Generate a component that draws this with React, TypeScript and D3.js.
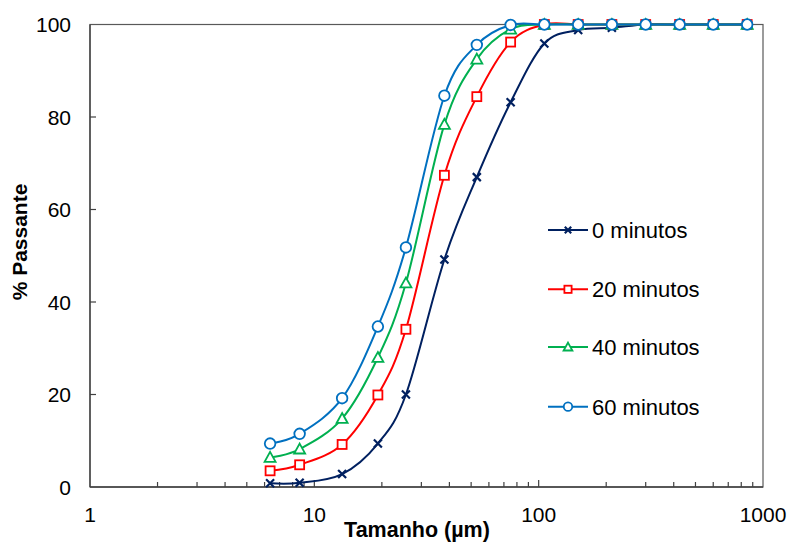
import React from "react";
import * as d3 from "d3";

const sizes = [6.35, 8.6, 13.3, 19.2, 25.6, 38, 53, 75, 106, 150, 212, 300, 425, 600, 850];
const min0 = [0.8, 0.9, 2.8, 9.4, 20.0, 49.2, 67.0, 83.2, 95.9, 98.8, 99.3, 100, 100, 100, 100];
const min20 = [3.5, 4.8, 9.2, 19.9, 34.1, 67.4, 84.4, 96.2, 100, 100, 100, 100, 100, 100, 100];
const min40 = [6.4, 8.2, 14.8, 28.0, 44.1, 78.4, 92.5, 99.0, 100, 100, 100, 100, 100, 100, 100];
const min60 = [9.4, 11.5, 19.2, 34.7, 51.8, 84.6, 95.6, 99.9, 100, 100, 100, 100, 100, 100, 100];
const seriesNames = ["0 minutos", "20 minutos", "40 minutos", "60 minutos"];
const xTickLabels = [1, 10, 100, 1000];
const yTickLabels = [0, 20, 40, 60, 80, 100];

const colors = ["#002060", "#FF0000", "#00B050", "#0070C0"];
const markers = ["x", "square", "triangle", "circle"];
const seriesValues = [min0, min20, min40, min60];

const W = 788, H = 542;
const L = 90, R = 763, T = 24.5, B = 487;
const font = "'Liberation Sans', Arial, sans-serif";

function Marker({ type, x, y, color, s = 1 }: { type: string; x: number; y: number; color: string; s?: number }) {
  if (type === "x") {
    const r = 4 * s;
    return (
      <path d={`M${x - r},${y - r}L${x + r},${y + r}M${x - r},${y + r}L${x + r},${y - r}`} stroke={color} strokeWidth={2.2} fill="none" />
    );
  }
  if (type === "square") {
    const r = 4.5 * s;
    return <rect x={x - r} y={y - r} width={2 * r} height={2 * r} fill="#fff" stroke={color} strokeWidth={1.8} />;
  }
  if (type === "triangle") {
    const r = 5.5 * s;
    return (
      <path d={`M${x},${y - r}L${x + r},${y + r * 0.8}L${x - r},${y + r * 0.8}Z`} fill="#fff" stroke={color} strokeWidth={1.8} />
    );
  }
  return <circle cx={x} cy={y} r={5.3 * s} fill="#fff" stroke={color} strokeWidth={1.8} />;
}

export default function App() {
  const x = d3.scaleLog().domain([1, 1000]).range([L, R]);
  const y = d3.scaleLinear().domain([0, 100]).range([B, T]);
  const line = d3
    .line<[number, number]>()
    .x((d) => x(d[0]))
    .y((d) => y(d[1]))
    .curve(d3.curveCatmullRom.alpha(0));

  const minorTicks: number[] = [];
  for (const dec of [1, 10, 100]) for (let k = 2; k <= 9; k++) minorTicks.push(dec * k);

  const legendY = [230, 289.3, 347, 406.7];

  return (
    <svg width={W} height={H} style={{ position: "absolute", left: 0, top: 0 }} fontFamily={font}>
      <rect x={0} y={0} width={W} height={H} fill="#fff" />
      <rect x={L} y={T} width={R - L} height={B - T} fill="none" stroke="#595959" strokeWidth={1.2} />
      {yTickLabels.map((v) => (
        <g key={"y" + v}>
          {v > 0 && v < 100 && <line x1={L} x2={L + 6} y1={y(v)} y2={y(v)} stroke="#404040" strokeWidth={1.2} />}
          <text x={71} y={y(v)} dy="0.36em" textAnchor="end" fontSize={21} fill="#000">
            {v}
          </text>
        </g>
      ))}
      {minorTicks.map((v) => (
        <line key={"m" + v} x1={x(v)} x2={x(v)} y1={B} y2={B - 5} stroke="#404040" strokeWidth={1.2} />
      ))}
      {xTickLabels.map((v) => (
        <g key={"x" + v}>
          {v > 1 && v < 1000 && <line x1={x(v)} x2={x(v)} y1={B} y2={B - 7} stroke="#404040" strokeWidth={1.2} />}
          <text x={x(v)} y={522} textAnchor="middle" fontSize={21} fill="#000">
            {v}
          </text>
        </g>
      ))}
      <line x1={L} x2={R} y1={B} y2={B} stroke="#404040" strokeWidth={1.3} />
      <line x1={L} x2={L} y1={T} y2={B} stroke="#404040" strokeWidth={1.3} />
      {seriesValues.map((vals, i) => {
        const pts = sizes.map((s, j) => [s, vals[j]] as [number, number]);
        return (
          <g key={"s" + i}>
            <path d={line(pts) || ""} fill="none" stroke={colors[i]} strokeWidth={2} />
            {pts.map((p, j) => (
              <Marker key={j} type={markers[i]} x={x(p[0])} y={y(p[1])} color={colors[i]} />
            ))}
          </g>
        );
      })}
      {seriesNames.map((n, i) => (
        <g key={"l" + i}>
          <line x1={548} x2={588} y1={legendY[i]} y2={legendY[i]} stroke={colors[i]} strokeWidth={2} />
          <Marker type={markers[i]} x={568} y={legendY[i]} color={colors[i]} s={0.8} />
          <text x={592} y={legendY[i]} dy="0.36em" fontSize={22} fill="#000">
            {n}
          </text>
        </g>
      ))}
      <text x={417} y={537} textAnchor="middle" fontSize={21.5} fontWeight="bold" fill="#000">
        Tamanho (µm)
      </text>
      <text transform={`translate(27,242) rotate(-90)`} textAnchor="middle" fontSize={21} fontWeight="bold" fill="#000">
        % Passante
      </text>
    </svg>
  );
}
